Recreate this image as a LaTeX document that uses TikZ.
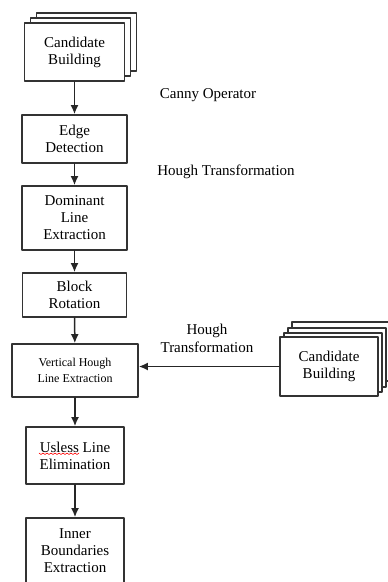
\documentclass[tikz,border=0pt]{standalone}
\usepackage{fontspec}
\setmainfont{Liberation Serif}
\usetikzlibrary{arrows.meta}

\begin{document}
\begin{tikzpicture}[line cap=round,line join=round,x=1pt,y=-1pt,
		box/.style={draw=black!80, line width=1.7pt, fill=white, align=center, inner sep=0pt,
			font=\fontsize{15}{17}\selectfont},
		note/.style={align=center, font=\fontsize{15}{18}\selectfont},
		flow/.style={draw=black!85, line width=1.5pt, -{Latex[length=9pt,width=8pt]}}]
		\useasboundingbox (0,0) rectangle (388,582);
		% Etage 1 : stacked input
		\node[box, minimum width=100, minimum height=58] (candC) at (86.5,42) {};
		\node[box, minimum width=100, minimum height=58] (candB) at (80.5,47) {};
		\node[box, minimum width=100, minimum height=58] (cand) at (74.5,52) {Candidate\\Building};
		% Etage 2 : chain
		\node[box, minimum width=105, minimum height=48] (edge) at (74.5,139) {Edge\\Detection};
		\node[box, minimum width=105, minimum height=64] (dom) at (74.5,218) {Dominant\\Line\\Extraction};
		\node[box, minimum width=104, minimum height=44] (rot) at (74.5,295) {Block\\Rotation};
		\node[box, minimum width=126, minimum height=53, font=\fontsize{12}{16}\selectfont] (vert) at (75,370.5) {Vertical Hough\\Line Extraction};
		\node[box, minimum width=98, minimum height=57] (usel) at (75,455.5) {Usless Line\\Elimination};
		\node[box, minimum width=98, minimum height=66] (inner) at (75,551) {Inner\\Boundaries\\Extraction};
		% Etage 3 : second input
		\node[box, minimum width=98, minimum height=59] (candR3) at (341,351.5) {};
		\node[box, minimum width=98, minimum height=59] (candR2) at (337,357.5) {};
		\node[box, minimum width=98, minimum height=59] (candR1) at (333,362.5) {};
		\node[box, minimum width=98, minimum height=59] (candR) at (329,366.5) {Candidate\\Building};
		% labels
		\node[note] (canny) at (208,95) {Canny Operator};
		\node[note] (hough) at (226,172) {Hough Transformation};
		\node[note] (houghR) at (207,338) {Hough\\Transformation};
		% arrows
		\draw[flow] (cand) -- (edge);
		\draw[flow] (edge) -- (dom);
		\draw[flow] (dom) -- (rot);
		\draw[flow] (rot) -- (vert);
		\draw[flow] (vert) -- (usel);
		\draw[flow] (usel) -- (inner);
		\draw[flow] (candR.west) -- (candR.west -| vert.east);
		% wavy underline
		\draw[red, line width=0.6pt] (39,453) -- ++(2,1.5) -- ++(2,-1.5) -- ++(2,1.5) -- ++(2,-1.5) -- ++(2,1.5) -- ++(2,-1.5) -- ++(2,1.5) -- ++(2,-1.5) -- ++(2,1.5) -- ++(2,-1.5) -- ++(2,1.5) -- ++(2,-1.5) -- ++(2,1.5) -- ++(2,-1.5) -- ++(2,1.5) -- ++(2,-1.5) -- ++(2,1.5) -- ++(2,-1.5) -- ++(2,1.5) -- ++(2,-1.5);
\end{tikzpicture}
\end{document}
